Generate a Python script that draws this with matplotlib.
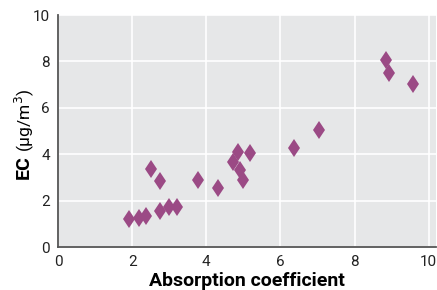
import matplotlib
matplotlib.use("Agg")
import matplotlib.pyplot as plt
from matplotlib import font_manager

# absorption coefficient vs EC concentration
absorption = [1.92, 2.18, 2.37, 2.5, 2.75, 2.75, 3.0, 3.2, 3.77, 4.31,
              4.72, 4.85, 4.9, 5.0, 5.17, 6.36, 7.03, 8.84, 8.92, 9.57]
ec = [1.2, 1.24, 1.36, 3.38, 2.85, 1.55, 1.72, 1.72, 2.9, 2.55,
      3.68, 4.1, 3.32, 2.88, 4.05, 4.25, 5.03, 8.05, 7.5, 7.02]
xticks = [0, 2, 4, 6, 8, 10]
yticks = [0, 2, 4, 6, 8, 10]

names = {f.name for f in font_manager.fontManager.ttflist}
narrow = "Liberation Sans Narrow" if "Liberation Sans Narrow" in names else "Roboto"
plt.rcParams["font.family"] = [narrow, "DejaVu Sans"]

fig = plt.figure(figsize=(4.37, 2.90), dpi=100)
ax = fig.add_axes([0.133, 0.148, 0.865, 0.800])
ax.set_facecolor("#e6e7e8")
ax.grid(True, color="white", linewidth=1.2)
ax.set_axisbelow(True)

ax.plot(absorption, ec, linestyle="none", marker="d", markersize=9.5,
        color="#9b4a85", markeredgewidth=0)

ax.set_xlim(0, 10.2)
ax.set_ylim(0, 10)
ax.set_xticks(xticks)
ax.set_yticks(yticks)
ax.tick_params(length=0, labelsize=11, colors="#222222", pad=6)
for s in ["top", "right"]:
    ax.spines[s].set_visible(False)
for s in ["left", "bottom"]:
    ax.spines[s].set_color("#555555")
    ax.spines[s].set_linewidth(1.3)

ax.set_xlabel("Absorption coefficient", fontsize=14, fontweight="bold", labelpad=2)
fig.text(0.055, 0.465, "EC", rotation=90, fontsize=14, fontweight="bold",
         ha="center", va="top")
fig.text(0.055, 0.475, "(\u03bcg/m$^3$)", rotation=90, fontsize=12.5,
         ha="center", va="bottom")

fig.savefig("out.png", dpi=100)
